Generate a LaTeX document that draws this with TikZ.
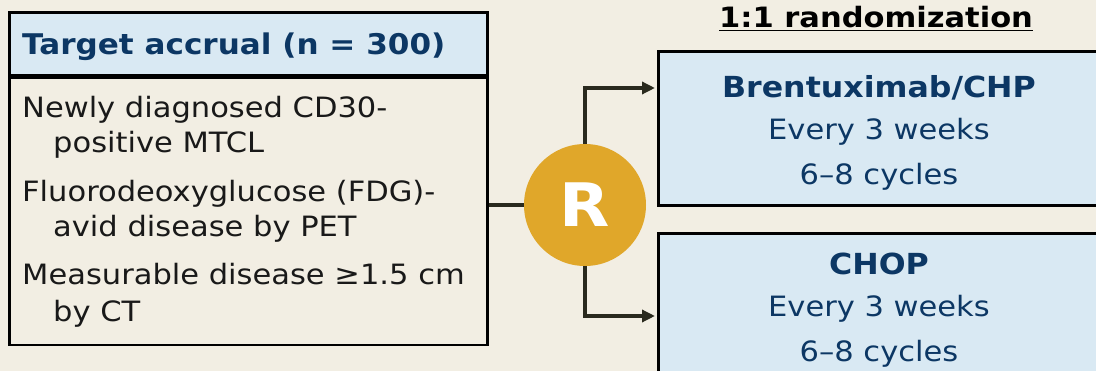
\documentclass[tikz,border=0pt]{standalone}
\usepackage{fontspec}
\setmainfont[FakeStretch=1.09]{DejaVu Sans}
\usetikzlibrary{positioning,arrows.meta}
\definecolor{bgcream}{HTML}{F2EEE3}
\definecolor{boxblue}{HTML}{D9E9F3}
\definecolor{navytext}{HTML}{0C3764}
\definecolor{randgold}{HTML}{E0A72A}
\definecolor{lineink}{HTML}{2A2A1E}
\tikzset{
  frame/.style={draw=black, line width=2.6pt, inner sep=0pt},
  itemtext/.style={anchor=base west, inner sep=0pt, text=black!90, font=\fontsize{28}{33}\selectfont},
  armtitle/.style={anchor=base, inner sep=0pt, text=navytext, font=\fontsize{29}{34}\selectfont\bfseries},
  armtext/.style={anchor=base, inner sep=0pt, text=navytext, font=\fontsize{28}{33}\selectfont},
  link/.style={draw=lineink, line width=3.4pt},
  arrowlink/.style={link, -{Triangle[length=13pt,width=12pt]}}
}
\begin{document}
\begin{tikzpicture}[x=1pt,y=-1pt]
\useasboundingbox[fill=bgcream] (0,0) rectangle (1096,371);
\clip (0,0) rectangle (1096,371);
% eligibility box
\node[frame, fill=boxblue, minimum width=478pt, minimum height=63pt, anchor=north west] (hdr) at (8,11) {};
\node[frame, fill=bgcream, minimum width=478pt, minimum height=267pt, anchor=north west] (elig) at (hdr.south west) {};
\node[anchor=base west, inner sep=0pt, text=navytext, font=\fontsize{28.5}{34}\selectfont\bfseries] (hdrtext) at (22,55) {Target accrual (n = 300)};
\node[itemtext] (itema) at (22,118) {Newly diagnosed CD30-};
\node[itemtext] (itemb) at (53,153) {positive MTCL};
\node[itemtext] (itemc) at (22,202) {Fluorodeoxyglucose (FDG)-};
\node[itemtext] (itemd) at (53,237) {avid disease by PET};
\node[itemtext] (iteme) at (22,285) {Measurable disease ≥1.5 cm};
\node[itemtext] (itemf) at (53,322) {by CT};
% randomization
\node[circle, fill=randgold, minimum size=122pt, inner sep=0pt, text=white, font=\fontsize{60}{60}\selectfont\bfseries] (R) at (585,205) {R};
\node[anchor=base, inner sep=0pt, font=\fontsize{28}{33}\selectfont\bfseries] (ratio) at (876,28) {\underline{1:1 randomization}};
% treatment arms
\node[frame, fill=boxblue, minimum width=460pt, minimum height=154pt, anchor=north west] (armA) at (657,50) {};
\node[frame, fill=boxblue, minimum width=460pt, minimum height=160pt, anchor=north west] (armB) at (657,232) {};
\node[armtitle] (armAtitle) at (879,98) {Brentuximab/CHP};
\node[armtext] (armAfreq) at (879,140) {Every 3 weeks};
\node[armtext] (armAcyc) at (879,185) {6–8 cycles};
\node[armtitle] (armBtitle) at (879,275) {CHOP};
\node[armtext] (armBfreq) at (879,317) {Every 3 weeks};
\node[armtext] (armBcyc) at (879,362) {6–8 cycles};
% connectors
\coordinate (tipA) at (655,88);
\coordinate (tipB) at (655,316);
\draw[link] (R.west) -- (R.west -| elig.east);
\draw[arrowlink] (R.north) |- (tipA);
\draw[arrowlink] (R.south) |- (tipB);
\end{tikzpicture}
\end{document}
